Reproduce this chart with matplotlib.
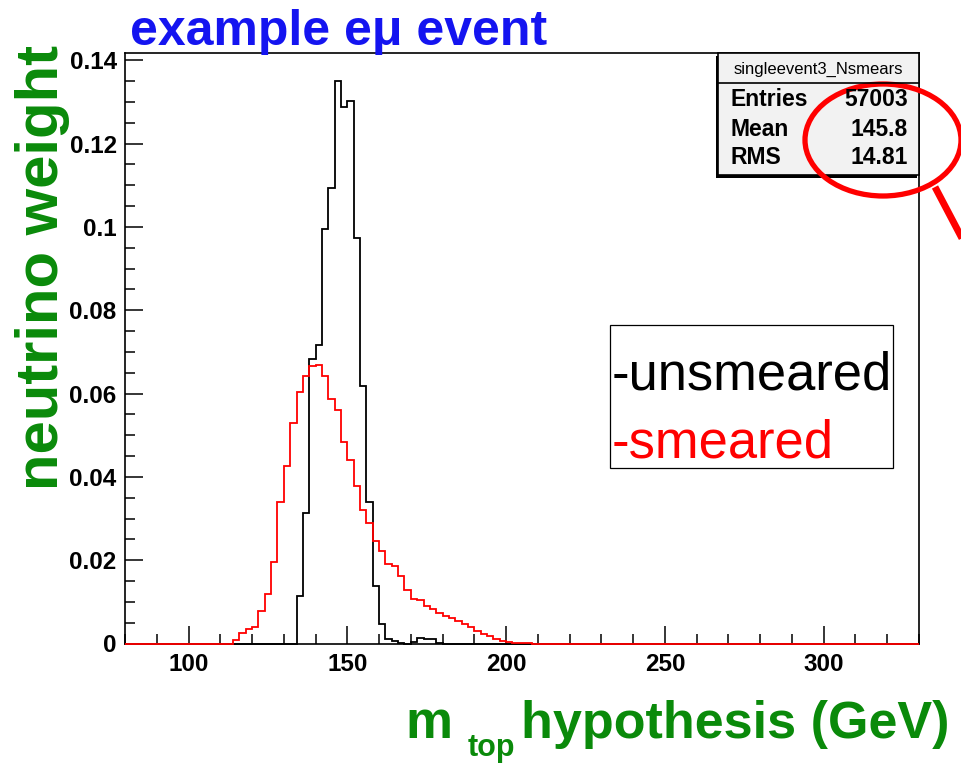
import numpy as np
import matplotlib
matplotlib.use('Agg')
import matplotlib.pyplot as plt
from matplotlib import font_manager
from matplotlib.patches import Rectangle, Ellipse
from matplotlib.ticker import MultipleLocator, FuncFormatter

# histogram binning (GeV)
bin_lo, bin_hi, bin_w = 80, 330, 2

# black histogram, first bin starts at 134 GeV
unsmeared_start = 134
unsmeared = [0.0113, 0.0313, 0.0683, 0.0717, 0.0995, 0.1094, 0.1351, 0.1288, 0.1303, 0.0974,
             0.0617, 0.0339, 0.0139, 0.0047, 0.0012, 0.0005, 0.0002, 0.0, 0.0003, 0.0014,
             0.0012, 0.0010, 0.0002]

# red histogram, first bin starts at 114 GeV
smeared_start = 114
smeared = [0.0008, 0.0026, 0.0036, 0.0039, 0.0078, 0.0118, 0.0195, 0.0340, 0.0427, 0.0529,
           0.0603, 0.0643, 0.0665, 0.0669, 0.0641, 0.0587, 0.0560, 0.0483, 0.0441, 0.0377,
           0.0320, 0.0289, 0.0247, 0.0223, 0.0192, 0.0185, 0.0161, 0.0129, 0.0108, 0.0104,
           0.0090, 0.0082, 0.0074, 0.0066, 0.0061, 0.0054, 0.0047, 0.0039, 0.0031, 0.0024,
           0.0018, 0.0012, 0.0007, 0.0004, 0.0002, 0.0001, 0.0001]

stats_title = 'singleevent3_Nsmears'
stats_labels = ['Entries', 'Mean', 'RMS']
stats_values = ['57003', '145.8', '14.81']

legend_labels = ['-unsmeared', '-smeared']
legend_colors = ['black', 'red']

names = {f.name for f in font_manager.fontManager.ttflist}
sans = 'Liberation Sans' if 'Liberation Sans' in names else 'DejaVu Sans'
plt.rcParams['font.family'] = sans

edges = np.arange(bin_lo, bin_hi + bin_w, bin_w)


def fill(start, vals):
    h = np.zeros(len(edges) - 1)
    i = (start - bin_lo) // bin_w
    h[i:i + len(vals)] = vals
    return h


h_black = fill(unsmeared_start, unsmeared)
h_red = fill(smeared_start, smeared)

W, H = 961, 764
fig = plt.figure(figsize=(W / 100, H / 100), dpi=100)
fig.patch.set_facecolor('white')

# main frame in pixel units
x0, x1, y0, y1 = 125, 919, 52.7, 643.5
ax = fig.add_axes([x0 / W, 1 - y1 / H, (x1 - x0) / W, (y1 - y0) / H])
ax.stairs(h_black, edges, color='black', lw=1.3, zorder=3, clip_on=False)
ax.stairs(h_red, edges, color='red', lw=1.3, zorder=4, clip_on=False)
ax.set_xlim(bin_lo, bin_hi)
ax.set_ylim(0, 0.1418)

ax.xaxis.set_major_locator(MultipleLocator(50))
ax.xaxis.set_minor_locator(MultipleLocator(10))
ax.yaxis.set_major_locator(MultipleLocator(0.02))
ax.yaxis.set_minor_locator(MultipleLocator(0.005))
ax.yaxis.set_major_formatter(FuncFormatter(lambda v, p: '%g' % round(v, 4)))
ax.tick_params(which='both', direction='in', width=1.1, top=False, right=False)
ax.tick_params(which='major', length=13)
ax.tick_params(which='minor', length=7)
ax.tick_params(axis='x', which='major', pad=7)
ax.tick_params(axis='y', which='major', pad=6)
for lab in ax.get_xticklabels() + ax.get_yticklabels():
    lab.set_fontsize(17.5)
    lab.set_fontweight('bold')
for s in ax.spines.values():
    s.set_linewidth(1.2)

# overlay for annotations, in pixel coordinates
ov = fig.add_axes([0, 0, 1, 1], zorder=5)
ov.set_xlim(0, W)
ov.set_ylim(H, 0)
ov.axis('off')

# stats box
ov.add_patch(Rectangle((715.5, 56), 201, 122, fc='black', ec='none'))
ov.add_patch(Rectangle((718, 53), 201, 122, fc='#f2f2f2', ec='black', lw=1.2))
ov.plot([718, 919], [83, 83], color='black', lw=1.2)
ov.text(818, 69, stats_title, fontsize=12, ha='center', va='center')
for i, (lab, val) in enumerate(zip(stats_labels, stats_values)):
    yy = 100 + 29 * i
    ov.text(730, yy, lab, fontsize=16.5, fontweight='bold', ha='left', va='center')
    ov.text(908, yy, val, fontsize=16.5, fontweight='bold', ha='right', va='center')

# red magnifier mark
ov.add_patch(Ellipse((883, 140), 156, 112, fc='none', ec='red', lw=3.8, clip_on=False))
ov.plot([935, 965], [187, 244], color='red', lw=5, solid_capstyle='butt', clip_on=False)

# legend box
ov.add_patch(Rectangle((610, 325), 283, 143, fc='white', ec='black', lw=0.9))
for i, (lab, col) in enumerate(zip(legend_labels, legend_colors)):
    ov.text(612, 389 + 68 * i, lab, color=col, fontsize=37.8, ha='left', va='baseline')

# title and axis titles
ov.text(130, 45, 'example e\u03bc event', color='#1414f0', fontsize=36, fontweight='bold',
        ha='left', va='baseline')
ov.text(58, 268, 'neutrino weight', color='#0a8a0a', fontsize=43, fontweight='bold',
        rotation=90, rotation_mode='anchor', ha='center', va='baseline')
ov.text(405, 738, 'm', color='#0a8a0a', fontsize=38, fontweight='bold', ha='left', va='baseline')
ov.text(468, 756, 'top', color='#0a8a0a', fontsize=22, fontweight='bold', ha='left', va='baseline')
ov.text(521, 738, 'hypothesis (GeV)', color='#0a8a0a', fontsize=37.5, fontweight='bold',
        ha='left', va='baseline')

fig.savefig('out.png', dpi=100)
